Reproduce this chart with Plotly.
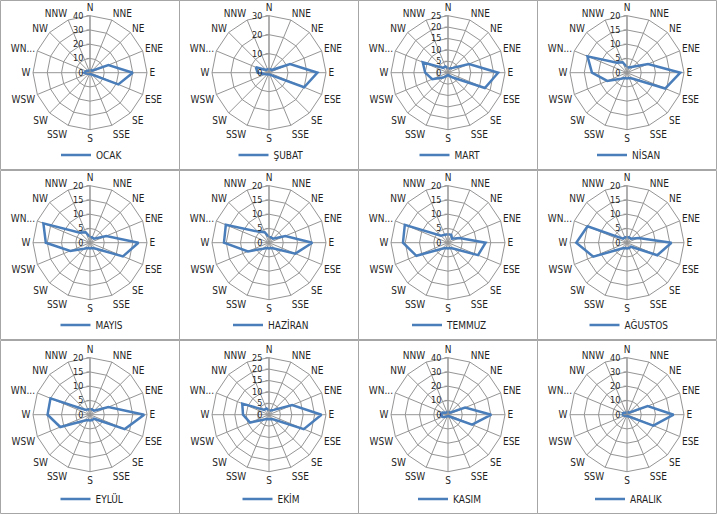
import plotly.graph_objects as go

directions = ["N", "NNE", "NE", "ENE", "E", "ESE", "SE", "SSE",
              "S", "SSW", "SW", "WSW", "W", "WNW", "NW", "NNW"]
direction_labels = ["N", "NNE", "NE", "ENE", "E", "ESE", "SE", "SSE",
                    "S", "SSW", "SW", "WSW", "W", "WN...", "NW", "NNW"]

months = ["OCAK", "ŞUBAT", "MART", "NİSAN", "MAYIS", "HAZİRAN",
          "TEMMUZ", "AĞUSTOS", "EYLÜL", "EKİM", "KASIM", "ARALIK"]

ocak    = [1.5, 2, 2, 14, 30, 21.5, 2, 1, 1, 1, 1, 2, 4, 3, 2, 1.5]
subat   = [2, 2, 2, 12, 25.5, 20, 2, 1, 1, 1, 1, 2, 6, 7.5, 2, 2]
mart    = [2, 2, 3, 10, 22, 17.5, 3, 1.5, 1, 1.5, 3, 7.5, 10, 12, 3, 3]
nisan   = [2, 2, 3, 8, 18.7, 14.5, 3, 2, 2, 2, 3, 7.5, 12.3, 15, 5, 4]
mayis   = [2, 2, 2, 6.2, 17, 12.5, 3, 2, 2, 2, 3, 7.5, 15.5, 17.7, 5, 4]
haziran = [2, 2, 2, 6.2, 15.2, 10, 3, 2, 2, 2, 3, 8, 15.8, 16.4, 5.5, 4]
temmuz  = [3, 3, 2, 4.4, 13.2, 11.4, 3, 2, 2, 2, 3, 12, 15.8, 16.4, 3.5, 3]
agustos = [2, 2, 2, 4.4, 15.6, 11.5, 2, 2, 2, 2, 3, 12.8, 17.8, 15, 2, 2]
eylul   = [2, 2, 2, 7, 19, 13.2, 2, 2, 2, 2, 3, 11.3, 14.9, 15, 2.5, 2]
ekim    = [2, 2, 3, 11, 23, 16.5, 3, 2, 2, 2, 3, 9, 11.4, 12.7, 3, 3]
kasim   = [2, 2, 2, 13, 30.4, 18.3, 2, 1, 1, 1, 2, 4, 5, 4, 2, 2]
aralik  = [1.5, 2, 2, 15.7, 32.7, 20, 2, 1, 1, 1, 1, 2, 3, 3, 2, 1.5]

series = [ocak, subat, mart, nisan, mayis, haziran,
          temmuz, agustos, eylul, ekim, kasim, aralik]
radial_max = [40, 30, 25, 20, 20, 20, 20, 20, 20, 25, 40, 40]
radial_step = [10, 10, 5, 5, 5, 5, 5, 5, 5, 5, 10, 10]

W, H = 717, 514
col_x0 = [0, 179, 358, 537]
row_y0 = [0, 170, 340]
row_h = [170, 170, 174]
R = 57
GRID = "#959595"
TXT = "#1f1f1f"
FONT = "Liberation Sans Narrow, Arial Narrow, DejaVu Sans Condensed, sans-serif"
BLUE = "#4A7EBB"

fig = go.Figure()
layout = dict(width=W, height=H,
              margin=dict(l=0, r=0, t=0, b=0, pad=0, autoexpand=False),
              paper_bgcolor="white", plot_bgcolor="white", shapes=[])

for i, (name, vals) in enumerate(zip(months, series)):
    r_i, c_i = divmod(i, 4)
    x0, y0 = col_x0[c_i], row_y0[r_i]
    cx = x0 + 90
    cy = y0 + (74.7 if r_i == 2 else 72.7)
    pkey = "polar" if i == 0 else f"polar{i+1}"
    lkey = "legend" if i == 0 else f"legend{i+1}"
    fig.add_trace(go.Scatterpolar(
        r=vals + [vals[0]], theta=directions + [directions[0]],
        mode="lines", name=name, line=dict(color=BLUE, width=2.5),
        subplot=pkey, legend=lkey, showlegend=True))
    layout[pkey] = dict(
        domain=dict(x=[(cx - R) / W, (cx + R) / W],
                    y=[1 - (cy + R) / H, 1 - (cy - R) / H]),
        gridshape="linear", bgcolor="white",
        angularaxis=dict(type="category", categoryarray=directions,
                         rotation=90, direction="clockwise",
                         tickmode="array", tickvals=directions,
                         ticktext=direction_labels,
                         showline=True, linecolor=GRID, linewidth=1,
                         gridcolor=GRID, gridwidth=1, ticks="",
                         tickfont=dict(family=FONT, size=10, color=TXT)),
        radialaxis=dict(range=[0, radial_max[i]], dtick=radial_step[i],
                        tick0=0, angle=90, tickangle=90,
                        side="counterclockwise",
                        showline=True, linecolor=GRID, linewidth=1,
                        gridcolor=GRID, gridwidth=1,
                        ticks="outside", ticklen=3, tickcolor=GRID,
                        tickfont=dict(family=FONT, size=9, color=TXT)))
    layout[lkey] = dict(x=(cx + 2) / W, y=1 - (y0 + row_h[r_i] - 15) / H,
                        xanchor="center", yanchor="middle",
                        orientation="h", bgcolor="rgba(0,0,0,0)",
                        font=dict(family=FONT, size=10, color=TXT),
                        itemwidth=30)
    layout["shapes"].append(dict(type="rect", xref="paper", yref="paper",
                                 x0=(x0 + 0.5) / W, x1=(x0 + 179.5) / W,
                                 y0=1 - (y0 + row_h[r_i] - 0.5) / H,
                                 y1=1 - (y0 + 0.5) / H,
                                 line=dict(color="#a6a6a6", width=1)))

fig.update_layout(**layout)
fig.write_html("out.html",
               config={"displayModeBar": False},
               post_script="document.body.style.margin='0px';"
                           "document.body.style.padding='0px';")
